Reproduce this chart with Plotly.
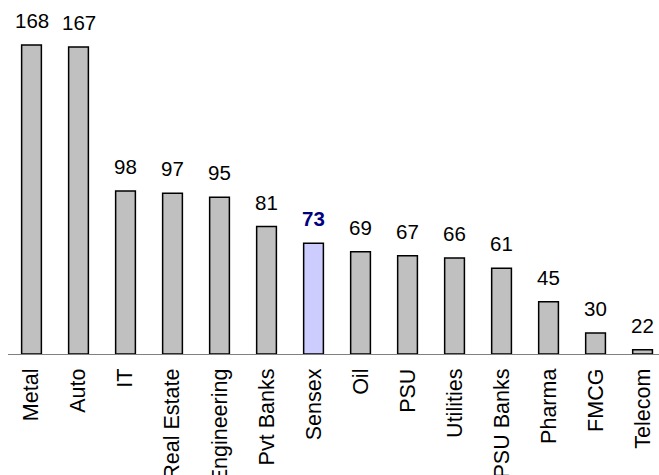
import plotly.graph_objects as go

categories = ["Metal", "Auto", "IT", "Real Estate", "Engineering", "Pvt Banks", "Sensex",
              "Oil", "PSU", "Utilities", "PSU Banks", "Pharma", "FMCG", "Telecom"]
values = [168, 167, 98, 97, 95, 81, 73, 69, 67, 66, 61, 45, 30, 22]
highlight = "Sensex"
BASE = 20

FONT = "Liberation Sans, Arial, sans-serif"
colors = ["#ccccff" if c == highlight else "#c0c0c0" for c in categories]

fig = go.Figure()
fig.add_trace(go.Bar(
    x=categories, y=[v - BASE for v in values], base=BASE,
    marker=dict(color=colors, line=dict(color="black", width=1.5)),
    width=0.42, hoverinfo="skip",
))

for c, v in zip(categories, values):
    hl = c == highlight
    fig.add_annotation(
        x=c, y=v, text=f"<b>{v}</b>" if hl else str(v), showarrow=False,
        yanchor="bottom", yshift=11,
        font=dict(family=FONT, size=20.5, color="#000080" if hl else "black"),
    )

fig.update_layout(
    width=659, height=475,
    margin=dict(l=8, r=0, t=0, b=121),
    paper_bgcolor="white", plot_bgcolor="white",
    showlegend=False,
    font=dict(family=FONT, size=20, color="black"),
    xaxis=dict(
        type="category", range=[-0.5, 13.35], tickangle=-90,
        showline=True, linecolor="#808080", linewidth=1,
        showgrid=False, ticks="outside", ticklen=5, tickcolor="rgba(0,0,0,0)",
        automargin=False, tickfont=dict(family=FONT, size=21.5, color="black"),
    ),
    yaxis=dict(range=[BASE, 189.5], visible=False, showgrid=False, zeroline=False,
               automargin=False),
)
fig.write_html("out.html")
